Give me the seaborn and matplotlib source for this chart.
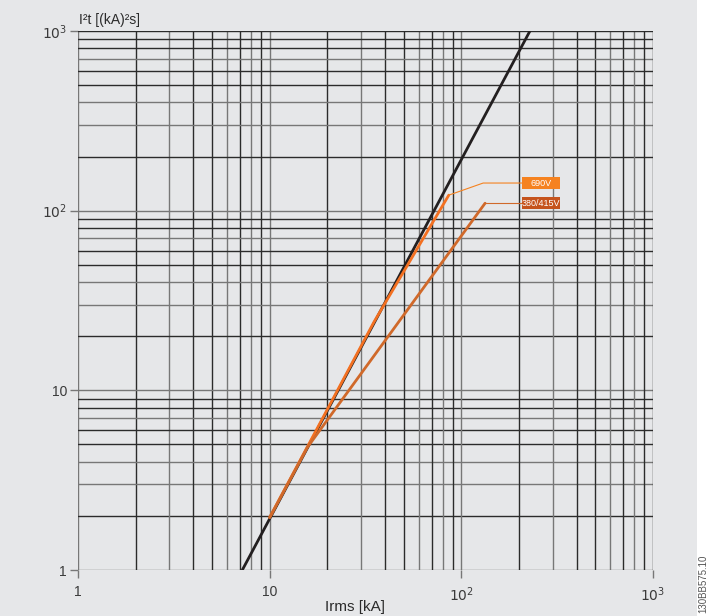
import numpy as np
import pandas as pd
import matplotlib.pyplot as plt
import seaborn as sns

# current I (kA) vs let-through energy I2t ((kA)^2 s)
black_I = [7.2, 228]
black_i2t = [1, 1000]
v690_I = [10, 35, 86]
v690_i2t = [1.96, 24, 122]
v380_I = [10, 15.7, 133]
v380_i2t = [1.96, 4.8, 110]

labels = ["690V", "380/415V"]
label_colors = ["#f58220", "#c5531c"]
line_colors = {"cable": "#231f20", "690V": "#f37021", "380/415V": "#d0692a"}

df = pd.concat([
    pd.DataFrame({"I": black_I, "i2t": black_i2t, "s": "cable"}),
    pd.DataFrame({"I": v690_I, "i2t": v690_i2t, "s": "690V"}),
    pd.DataFrame({"I": v380_I, "i2t": v380_i2t, "s": "380/415V"}),
])

sns.set_theme(style="white")
plt.rcParams['font.family'] = ['Liberation Sans', 'DejaVu Sans']
bg = "#e6e7e9"

fig = plt.figure(figsize=(7.07, 6.16), dpi=100, facecolor=bg)
ax = fig.add_axes([78/707, 1-570/616, 575/707, 539/616])
ax.set_facecolor(bg)
ax.set_xscale("log")
ax.set_yscale("log")
ax.set_xlim(1, 1000)
ax.set_ylim(1, 1000)

dark, grey = "#2b2b2b", "#777777"
vpat = {1: grey, 2: dark, 3: grey, 4: dark, 5: dark, 6: grey, 7: dark, 8: grey, 9: dark}
hpat = {1: grey, 2: dark, 3: grey, 4: grey, 5: dark, 6: dark, 7: grey, 8: dark, 9: dark}
for dec in [1, 10, 100]:
    for m in range(1, 10):
        v = dec * m
        ax.axvline(v, color=vpat[m], lw=1.0, zorder=1)
        ax.axhline(v, color=hpat[m], lw=1.0, zorder=1)
ax.axvline(1000, color=dark, lw=1.0, zorder=1)
ax.axhline(1000, color=dark, lw=1.0, zorder=1)

sns.lineplot(data=df, x="I", y="i2t", hue="s", palette=line_colors, sort=False,
             lw=2.0, legend=False, ax=ax, zorder=3, estimator=None)

for s in ax.spines.values():
    s.set_visible(False)

# leader lines and labels
box_l, box_r = 207, 327
ax.plot([v690_I[-1], 130, box_l], [v690_i2t[-1], 142.5, 142.5], color="#f58220", lw=0.8, zorder=3)
ax.plot([v380_I[-1], box_l], [v380_i2t[-1], v380_i2t[-1]], color="#d0692a", lw=0.8, zorder=3)
for lab, col, yv in zip(labels, label_colors, [142.5, 110]):
    ax.add_patch(plt.Rectangle((box_l, yv / 1.083), box_r - box_l, yv * 1.083 - yv / 1.083,
                               fc=col, ec="none", zorder=4))
    ax.text(np.sqrt(box_l * box_r), yv, lab, color="white", fontsize=6.5, ha="center", va="center", zorder=5)

ax.set_xticks([1, 10, 100, 1000])
ax.set_xticklabels(["1", "10", r"$10^2$", r"$10^3$"])
ax.set_yticks([1, 10, 100, 1000])
ax.set_yticklabels(["1", "10", r"$10^2$", r"$10^3$"])
ax.minorticks_off()
ax.tick_params(axis="x", length=6, width=1, color=grey, labelsize=10, labelcolor="#3a3a3a", pad=5, direction="out", bottom=True)
ax.tick_params(axis="y", length=6, width=1, color=grey, labelsize=10, labelcolor="#3a3a3a", pad=2, direction="out", left=True)

ax.set_xlabel("")
ax.set_ylabel("")
fig.text(355/707, 1-607/616, "Irms [kA]", fontsize=11, color="#2b2b2b", ha="center", va="center")
fig.text(79/707, 1-20/616, "I²t [(kA)²s]", fontsize=10, color="#2b2b2b", ha="left", va="center")

# white strip and rotated reference code on the right
fig.patches.append(plt.Rectangle((697/707, 0), 10/707, 1, transform=fig.transFigure, fc="white", ec="none"))
fig.text(703/707, 3/616, "130BB575.10", rotation=90, fontsize=7, color="#555555", ha="center", va="bottom")

fig.savefig("out.png", dpi=100, facecolor=bg)
